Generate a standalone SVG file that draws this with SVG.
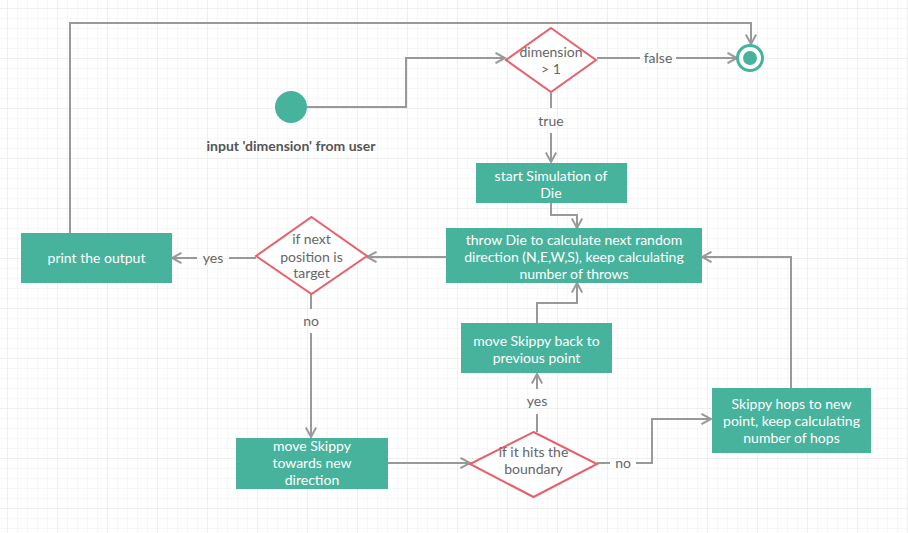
<svg xmlns="http://www.w3.org/2000/svg" width="908" height="533" viewBox="0 0 908 533">
<defs>
<pattern id="grid" x="7" y="8" width="10" height="10" patternUnits="userSpaceOnUse">
<path d="M0,0 H10 M0,0 V10" fill="none" stroke="#f0f0f0" stroke-width="1"/>
</pattern>
<pattern id="grid5" x="7" y="8" width="50" height="50" patternUnits="userSpaceOnUse">
<path d="M0,0 H50 M0,0 V50" fill="none" stroke="#e8e8e8" stroke-width="1"/>
</pattern>
<marker id="arr" viewBox="0 0 12 12" refX="10.5" refY="6" markerWidth="12" markerHeight="12" markerUnits="userSpaceOnUse" orient="auto">
<path d="M1,0.8 L10.5,6 L1,11.2" fill="none" stroke="#999" stroke-width="2"/>
</marker>
</defs>
<style>
.box{fill:#47b39c}
.dia{fill:#fff;stroke:#e9606a;stroke-width:2}
.bt{font-family:Lato,"Noto Sans",sans-serif;font-size:14px;fill:#fff;text-anchor:middle}
.dt{font-family:Lato,"Noto Sans",sans-serif;font-size:14px;fill:#666;text-anchor:middle}
.lb{font-family:Lato,"Noto Sans",sans-serif;font-size:14px;fill:#666;text-anchor:middle}
.c{fill:none;stroke:#999;stroke-width:2}
.ca{fill:none;stroke:#999;stroke-width:2;marker-end:url(#arr)}
</style>
<rect width="908" height="533" fill="#fff"/>
<rect width="908" height="533" fill="url(#grid)"/>
<rect width="908" height="533" fill="url(#grid5)"/>

<g id="connectors">
<path class="ca" d="M307,107 H406 V58 H505"/>
<path class="c" d="M597,58 H640"/>
<path class="ca" d="M676,58 H737"/>
<path class="c" d="M551,93 V108"/>
<path class="ca" d="M551,133 V162"/>
<path class="ca" d="M551,203 V215 H577 V228"/>
<path class="ca" d="M446,257 H367"/>
<path class="c" d="M256,258 H229"/>
<path class="ca" d="M197,258 H172"/>
<path class="ca" d="M70,233 V23 H751 V44"/>
<path class="c" d="M311,294 V309"/>
<path class="ca" d="M311,333 V437"/>
<path class="ca" d="M388,463 H470"/>
<path class="c" d="M597,463 H610"/>
<path class="ca" d="M636,463 H652 V419 H711"/>
<path class="c" d="M537,432 V414"/>
<path class="ca" d="M537,389 V374"/>
<path class="ca" d="M537,323 V303 H577 V283"/>
<path class="ca" d="M791,388 V257 H702"/>
</g>
<g id="labels">
<text class="lb" x="658" y="63">false</text>
<text class="lb" x="551" y="126">true</text>
<text class="lb" x="213" y="263">yes</text>
<text class="lb" x="311" y="326">no</text>
<text class="lb" x="537" y="406">yes</text>
<text class="lb" x="623" y="468">no</text>
</g>

<g id="start">
<circle cx="291" cy="107" r="16" fill="#47b39c"/>
<text x="291" y="151" font-family="Lato,'Noto Sans',sans-serif" font-size="14" font-weight="bold" fill="#555" text-anchor="middle">input 'dimension' from user</text>
</g>

<g id="end">
<circle cx="750" cy="58" r="12.5" fill="#fff" stroke="#47b39c" stroke-width="3"/>
<circle cx="750" cy="58" r="7" fill="#47b39c"/>
</g>

<g id="dec-dimension">
<polygon class="dia" points="551,28 596,60 551,92 506,60"/>
<text class="dt" x="551" y="57">dimension</text>
<text class="dt" x="551" y="74">&gt; 1</text>
</g>

<g id="start-sim">
<rect class="box" x="476" y="163" width="151" height="40"/>
<text class="bt" x="551" y="180.5">start Simulation of</text>
<text class="bt" x="551" y="197.5">Die</text>
</g>

<g id="throw-die">
<rect class="box" x="446" y="228" width="256" height="55"/>
<text class="bt" x="574" y="245">throw Die to calculate next random</text>
<text class="bt" x="574" y="262">direction (N,E,W,S), keep calculating</text>
<text class="bt" x="574" y="279">number of throws</text>
</g>

<g id="dec-target">
<polygon class="dia" points="311.5,217 367,256 311.5,294 256,256"/>
<text class="dt" x="311.5" y="244">if next</text>
<text class="dt" x="311.5" y="261.5">position is</text>
<text class="dt" x="311.5" y="278">target</text>
</g>

<g id="print-output">
<rect class="box" x="21" y="233" width="151" height="50"/>
<text class="bt" x="96.5" y="263">print the output</text>
</g>

<g id="move-back">
<rect class="box" x="461" y="323" width="151" height="50"/>
<text class="bt" x="536.5" y="345.5">move Skippy back to</text>
<text class="bt" x="536.5" y="362.5">previous point</text>
</g>

<g id="move-towards">
<rect class="box" x="236" y="438" width="152" height="51"/>
<text class="bt" x="312" y="451">move Skippy</text>
<text class="bt" x="312" y="468">towards new</text>
<text class="bt" x="312" y="485">direction</text>
</g>

<g id="dec-boundary">
<polygon class="dia" points="533.5,432 597,464 533.5,497 470,464"/>
<text class="dt" x="533.5" y="457">if it hits the</text>
<text class="dt" x="533.5" y="474">boundary</text>
</g>

<g id="hops">
<rect class="box" x="712" y="388" width="159" height="65"/>
<text class="bt" x="791.5" y="409">Skippy hops to new</text>
<text class="bt" x="791.5" y="426">point, keep calculating</text>
<text class="bt" x="791.5" y="443">number of hops</text>
</g>
</svg>
